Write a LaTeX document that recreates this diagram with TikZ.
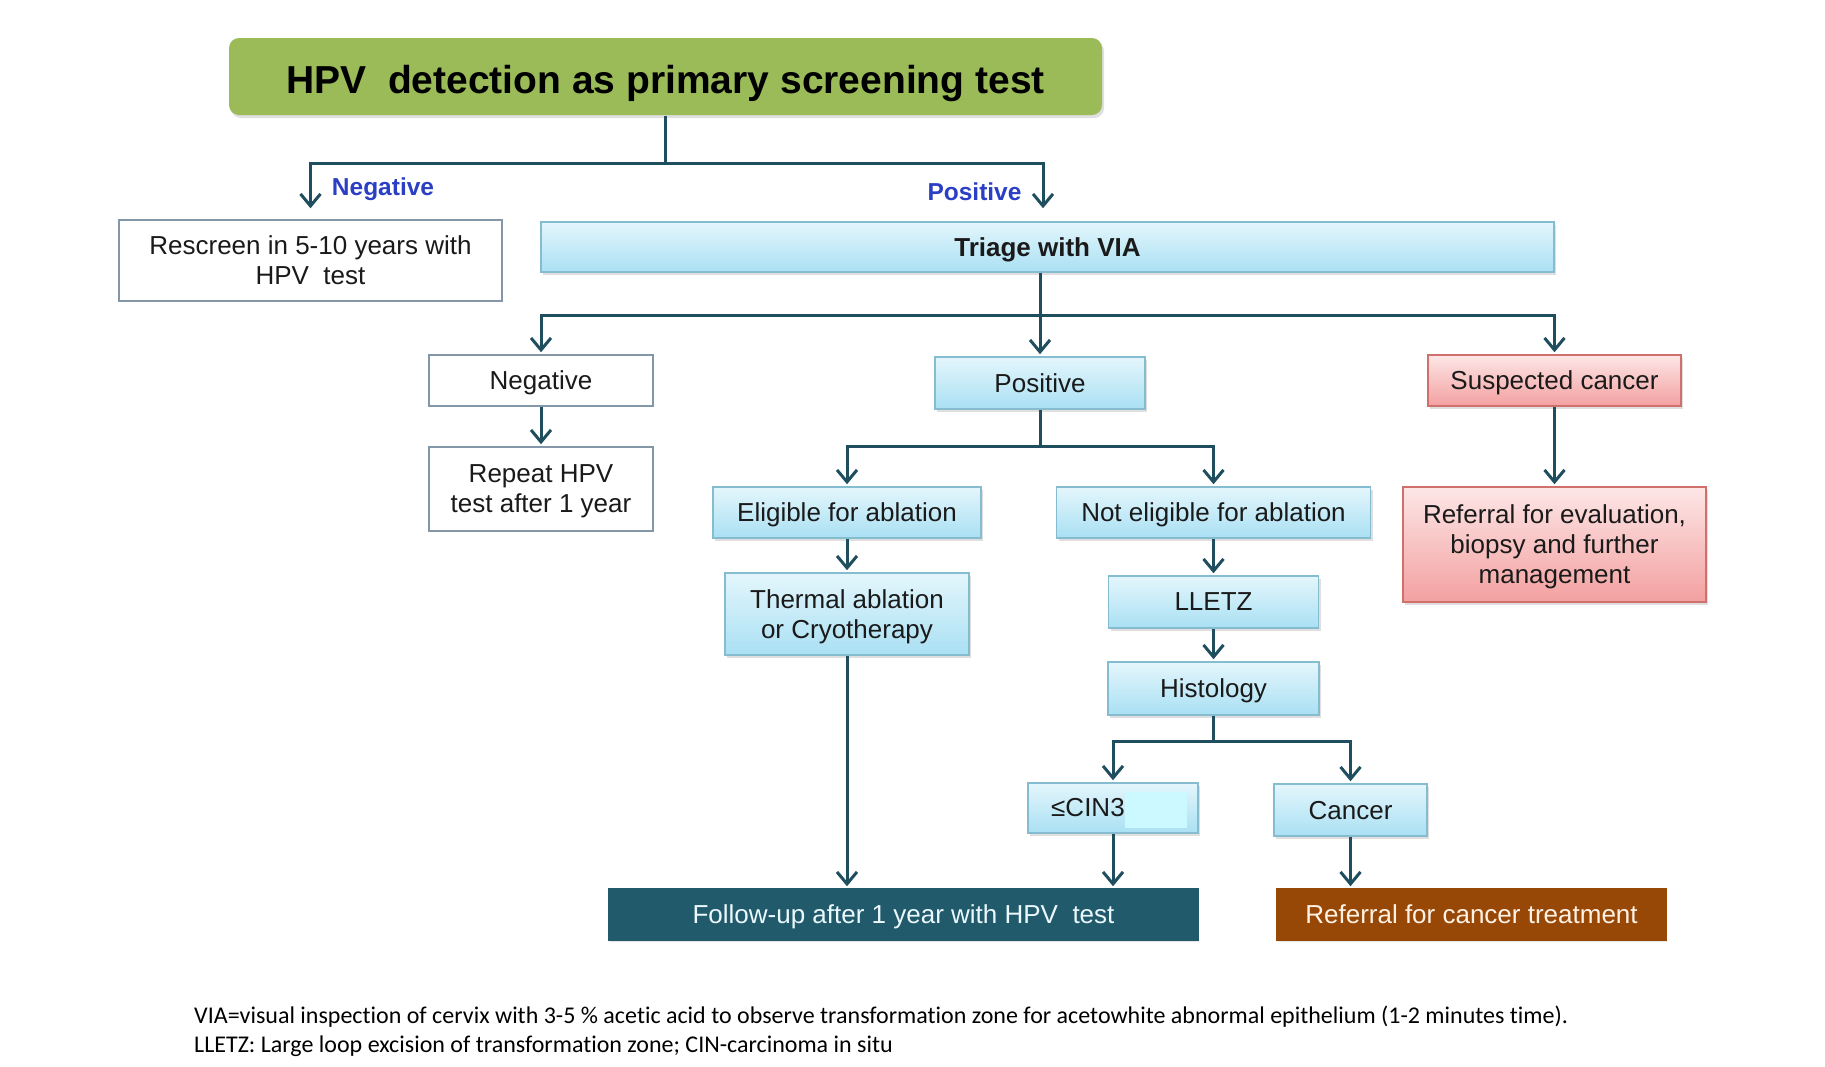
\documentclass[tikz,border=0pt]{standalone}
\usepackage{fontspec}
\setmainfont{Liberation Sans}
\newfontfamily\footfont[Ligatures=NoCommon]{Carlito}
\usetikzlibrary{arrows.meta,shadows,calc}
\definecolor{lnc}{HTML}{1F4E5E}
\definecolor{titlegreen}{HTML}{9BBB59}
\definecolor{wbord}{HTML}{8397A8}
\definecolor{btop}{HTML}{E4F6FC}
\definecolor{bbot}{HTML}{A9E0F3}
\definecolor{bbord}{HTML}{86BCD0}
\definecolor{ptop}{HTML}{FDE6E6}
\definecolor{pbot}{HTML}{F3A0A0}
\definecolor{pbord}{HTML}{D0706C}
\definecolor{followc}{HTML}{215A6A}
\definecolor{treatc}{HTML}{984806}
\definecolor{labblue}{HTML}{2B3FC4}
\definecolor{patchc}{HTML}{CCF8FF}
\definecolor{txt}{HTML}{1A1A1A}
\tikzset{
  base/.style={draw, line width=1.5pt, align=center, inner sep=0pt, text=txt,
    text depth=0pt, font=\fontsize{26}{30}\selectfont},
  shad/.style={drop shadow={shadow xshift=2pt, shadow yshift=-3pt, opacity=0.25}},
  whitebox/.style={base, draw=wbord, fill=white},
  bluebox/.style={base, draw=bbord, top color=btop, bottom color=bbot, shad},
  pinkbox/.style={base, draw=pbord, top color=ptop, bottom color=pbot, shad},
  ln/.style={draw=lnc, line width=3pt},
  arr/.style={draw=lnc, line width=3pt, shorten >=2pt,
    -{Straight Barb[length=12pt,width=20pt]}},
  lab/.style={font=\bfseries\fontsize{24.5}{28}\selectfont, text=labblue, inner sep=0pt},
  foot/.style={font=\footfont\fontsize{24}{29}\selectfont, anchor=base west, inner sep=0pt, text=black}
}
\begin{document}
\begin{tikzpicture}[x=1pt,y=-1pt]
\useasboundingbox[fill=white] (0,0) rectangle (1825,1066);

% nodes
\node[base, draw=none, fill=titlegreen, rounded corners=10pt, shad,
  minimum width=873pt, minimum height=77pt, text height=34pt, text depth=0pt,
  font=\bfseries\fontsize{39}{44}\selectfont, text=black]
  (title) at (665.5,76.5) {HPV\ \ detection as primary screening test};

\node[whitebox, minimum width=383pt, minimum height=81pt] (rescreen) at (310.5,260.5)
  {Rescreen in 5-10 years with\\HPV\ \ test};
\node[bluebox, minimum width=1013pt, minimum height=50pt, font=\bfseries\fontsize{26}{30}\selectfont]
  (triage) at (1047.5,247) {Triage with VIA};

\node[whitebox, minimum width=224pt, minimum height=51pt] (neg2) at (541,380.5) {Negative};
\node[bluebox, minimum width=210pt, minimum height=52pt] (pos2) at (1040,383) {Positive};
\node[pinkbox, minimum width=253pt, minimum height=51pt] (susp) at (1554.5,380.5) {Suspected cancer};

\node[whitebox, minimum width=224pt, minimum height=84pt] (repeat) at (541,489)
  {Repeat HPV\\test after 1 year};

\node[bluebox, minimum width=268pt, minimum height=51pt] (elig) at (847,512.5) {Eligible for ablation};
\node[bluebox, minimum width=314pt, minimum height=51pt] (noteli) at (1213.5,512.5) {Not eligible for ablation};
\node[pinkbox, minimum width=303pt, minimum height=115pt] (refeval) at (1554.5,544.5)
  {Referral for evaluation,\\biopsy and further\\management};

\node[bluebox, minimum width=244pt, minimum height=82pt] (thermal) at (847,614)
  {Thermal ablation\\or Cryotherapy};
\node[bluebox, minimum width=210pt, minimum height=52pt] (lletz) at (1213.5,602) {LLETZ};
\node[bluebox, minimum width=211pt, minimum height=53pt] (histo) at (1213.5,688.5) {Histology};

\node[bluebox, minimum width=170pt, minimum height=50pt] (cin) at (1113,808) {};
\node[inner sep=0pt, anchor=west, font=\fontsize{26}{30}\selectfont, text=txt] (cintext) at (1051,808) {≤CIN3};
\fill[patchc] (1125,792) rectangle (1187,828);
\node[bluebox, minimum width=153pt, minimum height=52pt] (cancer) at (1350.5,810) {Cancer};

\node[base, draw=followc, fill=followc, minimum width=589pt, minimum height=51pt,
  text=white!92!cyan, drop shadow={shadow xshift=1pt, shadow yshift=-2pt, opacity=0.2}]
  (follow) at (903.5,914.5) {Follow-up after 1 year with HPV\ \ test};
\node[base, draw=treatc, fill=treatc, minimum width=389pt, minimum height=51pt,
  text=white!90!orange, drop shadow={shadow xshift=1pt, shadow yshift=-2pt, opacity=0.2}]
  (reftreat) at (1471.5,914.5) {Referral for cancer treatment};

% labels
\node[lab] (labneg) at (383,189) {Negative};
\node[lab] (labpos) at (974.5,192) {Positive};

% connectors
\coordinate (j1) at (665.5,163);
\draw[ln] (title.south) -- (j1);
\draw[arr, shorten >=11pt] (j1) -| (rescreen.north);
\draw[arr, shorten >=13pt] (j1) -| ($(triage.north)+(-4.5,0)$);

\coordinate (j2) at (1040,315);
\draw[ln] (j2 |- triage.south) -- (j2);
\draw[arr] (j2) -| (neg2.north);
\draw[arr] (j2) -- (pos2.north);
\draw[arr] (j2) -| (susp.north);

\draw[arr] (neg2.south) -- (repeat.north);

\coordinate (j3) at (1040,446);
\draw[ln] (pos2.south) -- (j3);
\draw[arr] (j3) -| (elig.north);
\draw[arr] (j3) -| (noteli.north);

\draw[arr] (elig.south) -- (thermal.north);
\draw[arr] (noteli.south) -- (lletz.north);
\draw[arr] (lletz.south) -- (histo.north);
\draw[arr] (susp.south) -- (refeval.north);

\coordinate (j4) at (1213.5,741);
\draw[ln] (histo.south) -- (j4);
\draw[arr] (j4) -| (cin.north);
\draw[arr] (j4) -| (cancer.north);

\draw[arr] (thermal.south) -- (thermal.south |- follow.north);
\draw[arr] (cin.south) -- (cin.south |- follow.north);
\draw[arr] (cancer.south) -- (cancer.south |- reftreat.north);

% footnote
\node[foot] (foot1) at (194,1023.5) {VIA=visual inspection of cervix with 3-5 \% acetic acid to observe transformation zone for acetowhite abnormal epithelium (1-2 minutes time).};
\node[foot] (foot2) at (194,1052.5) {LLETZ: Large loop excision of transformation zone; CIN-carcinoma in situ};
\end{tikzpicture}
\end{document}
